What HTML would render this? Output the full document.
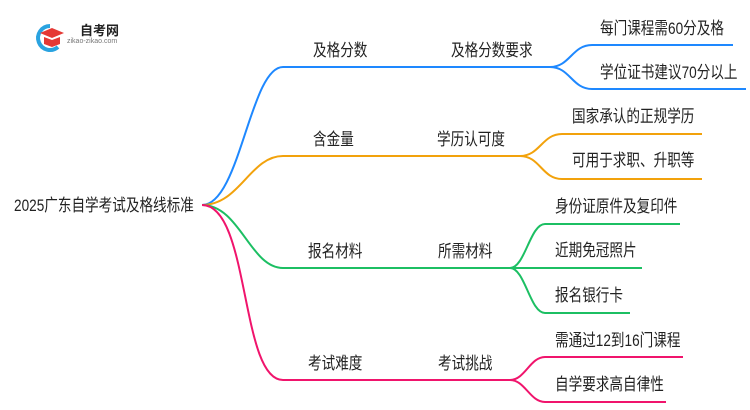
<!DOCTYPE html>
<html><head><meta charset="utf-8"><style>
body{margin:0;width:750px;height:410px;background:#fff;overflow:hidden;position:relative;font-family:"Liberation Sans","Noto Sans CJK SC",sans-serif;}
.t{position:absolute;font-size:17px;color:#222;white-space:nowrap;line-height:20px;transform:scaleX(0.8);transform-origin:0 0;}
</style></head><body>
<svg width="750" height="410" style="position:absolute;left:0;top:0" fill="none" stroke-width="2">
<g stroke="#1e88ff"><path d="M202,205 C240,205 250,67 283,67 L552,67"/><path d="M550,67 C570,67 572,45 592,45 L733,45"/><path d="M550,67 C570,67 572,89 592,89 L746,89"/></g>
<g stroke="#f2a20c"><path d="M202,205 C240,205 250,156 283,156 L522,156"/><path d="M520,156 C540,156 542,134 562,134 L702,134"/><path d="M520,156 C540,156 542,179 562,179 L702,179"/></g>
<g stroke="#1cbf63"><path d="M202,205 C240,205 250,268 283,268 L512,268"/><path d="M510,268 C525,268 530,224 545,224 L680,224"/><path d="M510,268 L642,268"/><path d="M510,268 C525,268 530,313 545,313 L630,313"/></g>
<g stroke="#f0146c"><path d="M202,205 C250,205 240,380 283,380 L512,380"/><path d="M510,380 C525,380 530,357 545,357 L683,357"/><path d="M510,380 C525,380 530,402 545,402 L666,402"/></g>
<path d="M50,26 A12,12 0 1 0 58,47" stroke="#2aa3e0" stroke-width="4"/>
<path d="M40,33 L52,28 L64,33 L52,38 Z" fill="#e53935" stroke="none"/>
<path d="M44,37 L44,44 L52,47 L60,44 L60,37 L52,40 Z" fill="#e53935" stroke="none"/>
</svg>
<div class="t" style="left:80px;top:21px;font-size:13px;font-weight:bold;transform:none">自考网</div>
<div class="t" style="left:67px;top:37px;font-size:7px;color:#777;line-height:10px;transform:none">zikao-zikao.com</div>
<div class="t" style="left:14px;top:196px;font-size:17px">2025广东自学考试及格线标准</div>
<div class="t" style="left:313px;top:41px">及格分数</div>
<div class="t" style="left:451px;top:41px">及格分数要求</div>
<div class="t" style="left:600px;top:19px">每门课程需60分及格</div>
<div class="t" style="left:600px;top:63px">学位证书建议70分以上</div>
<div class="t" style="left:313px;top:130px">含金量</div>
<div class="t" style="left:437px;top:130px">学历认可度</div>
<div class="t" style="left:572px;top:107px">国家承认的正规学历</div>
<div class="t" style="left:572px;top:151px">可用于求职、升职等</div>
<div class="t" style="left:308px;top:242px">报名材料</div>
<div class="t" style="left:438px;top:242px">所需材料</div>
<div class="t" style="left:555px;top:197px">身份证原件及复印件</div>
<div class="t" style="left:555px;top:241px">近期免冠照片</div>
<div class="t" style="left:555px;top:286px">报名银行卡</div>
<div class="t" style="left:308px;top:354px">考试难度</div>
<div class="t" style="left:438px;top:354px">考试挑战</div>
<div class="t" style="left:555px;top:331px">需通过12到16门课程</div>
<div class="t" style="left:555px;top:375px">自学要求高自律性</div>
</body></html>
